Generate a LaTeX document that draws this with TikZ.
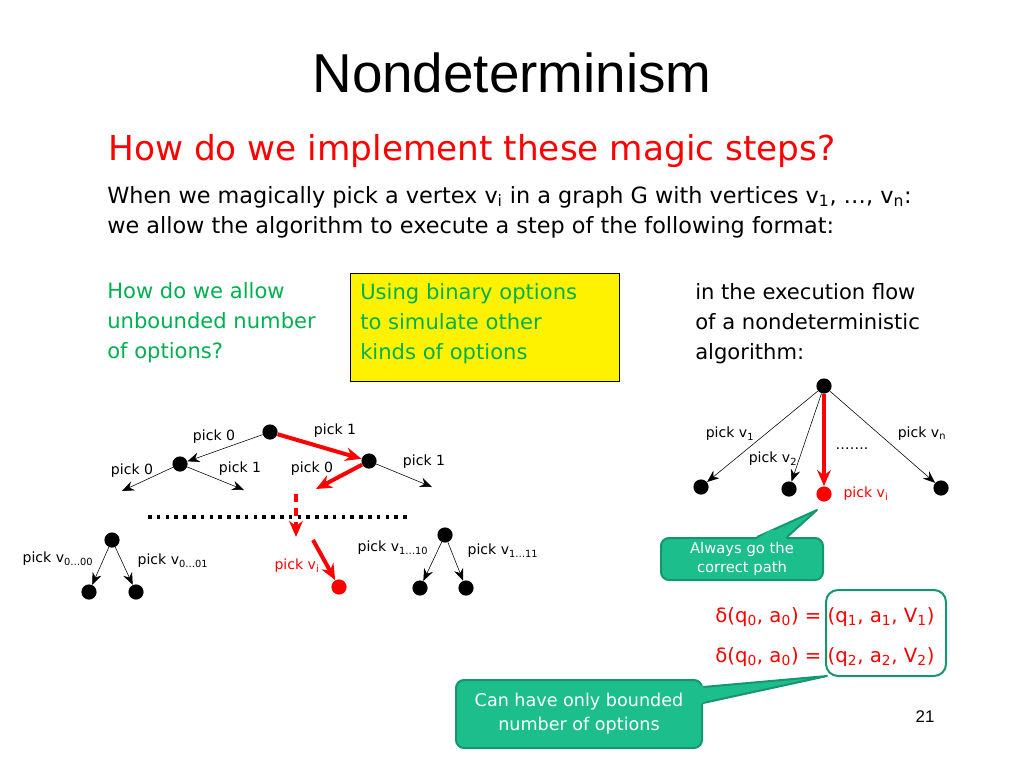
\documentclass[tikz,border=0pt]{standalone}
\usepackage{fontspec}
\setmainfont{DejaVu Sans}
\newfontfamily\titlefont{Liberation Sans}
\usetikzlibrary{arrows.meta}
\definecolor{slidegreen}{RGB}{0,176,80}
\definecolor{calloutfill}{RGB}{28,190,140}
\definecolor{calloutline}{RGB}{22,150,110}
\newcommand{\fsz}[2]{\fontsize{#1}{#2}\selectfont}
\tikzset{
  dot/.style={circle,fill=black,inner sep=0pt,minimum size=3.8mm},
  reddot/.style={dot,fill=red},
  lbl/.style={font=\fsz{10pt}{12pt},inner sep=1pt},
  pick/.style={-{Stealth[length=3mm,width=2.4mm]},thin},
  redpick/.style={-{Stealth[length=4mm,width=3.4mm]},red,line width=1mm},
  txt/.style={anchor=base west,inner sep=0pt,font=\fsz{15pt}{21.3pt}},
  tip/.style={fill=calloutfill,draw=calloutline,line width=0.5mm,rounded corners=2mm,
    text=white,align=center,inner sep=0pt}
}
\begin{document}
\begin{tikzpicture}[x=0.25mm,y=-0.25mm]
  \useasboundingbox (0,0) rectangle (1024,768);
  % title and text
  \node[anchor=base,inner sep=0pt,font=\titlefont\fsz{39pt}{44pt}] (title) at (512,92) {Nondeterminism};
  \node[txt,font=\fsz{24.4pt}{28pt},text=red] (head) at (108,160) {How do we implement these magic steps?};
  \node[txt,font=\fsz{15.9pt}{21.3pt}] (l1) at (107,203) {When we magically pick a vertex v\textsubscript{i} in a graph G with vertices v\textsubscript{1}, …, v\textsubscript{n}:};
  \node[txt,font=\fsz{15.9pt}{21.3pt}] (l2) at (107,233) {we allow the algorithm to execute a step of the following format:};
  \node[txt,text=slidegreen,align=left,anchor=north west] (q) at (107,282)
    {How do we allow\\unbounded number\\of options?};
  \node[draw=black,fill=yellow,minimum width=269*0.25mm,minimum height=108*0.25mm,anchor=north west] (ybox) at (350,273) {};
  \node[txt,text=slidegreen,align=left,anchor=north west] (ytext) at (360,283)
    {Using binary options\\to simulate other\\kinds of options};
  \node[txt,align=left,anchor=north west] (flow) at (695,283)
    {in the execution flow\\of a nondeterministic\\algorithm:};

  % binary tree
  \node[dot] (r) at (270,432) {};
  \node[dot] (a) at (180,464) {};
  \node[dot] (b) at (369,461) {};
  \coordinate (a0) at (122,491);
  \coordinate (a1) at (244,490);
  \coordinate (b0) at (316,489);
  \coordinate (b1) at (432,487);
  \draw[pick] (r) -- (a);
  \draw[redpick] (r) -- (b);
  \draw[pick] (a) -- (a0);
  \draw[pick] (a) -- (a1);
  \draw[redpick] (b) -- (b0);
  \draw[pick] (b) -- (b1);
  \node[lbl] at (214,437) {pick 0};
  \node[lbl] at (335,431) {pick 1};
  \node[lbl] at (132,471) {pick 0};
  \node[lbl] at (240,469) {pick 1};
  \node[lbl] at (312,469) {pick 0};
  \node[lbl] at (424,462) {pick 1};
  \coordinate (ds) at (296,494);
  \coordinate (de) at (296,537);
  \draw[red,line width=1mm,dash pattern=on 2mm off 1.5mm,-{Stealth[length=4mm,width=3.4mm]}] (ds) -- (de);
  \coordinate (dl) at (148,517);
  \coordinate (dr) at (408,517);
  \draw[line width=0.9mm,dash pattern=on 0.9mm off 1.3mm] (dl) -- (dr);
  % bottom left
  \node[dot] (c) at (112,540) {};
  \node[dot] (c0) at (89,592) {};
  \node[dot] (c1) at (136,592) {};
  \draw[pick] (c) -- (c0);
  \draw[pick] (c) -- (c1);
  \node[lbl] at (58,559) {pick v\textsubscript{0…00}};
  \node[lbl] at (173,561) {pick v\textsubscript{0…01}};
  % red path
  \coordinate (vs) at (313,540);
  \node[reddot] (vi) at (339,587) {};
  \draw[redpick] (vs) -- (vi);
  \node[lbl,text=red] at (297,566) {pick v\textsubscript{i}};
  % bottom right
  \node[dot] (d) at (445,535) {};
  \node[dot] (d0) at (420,588) {};
  \node[dot] (d1) at (466,588) {};
  \draw[pick] (d) -- (d0);
  \draw[pick] (d) -- (d1);
  \node[lbl] at (393,548) {pick v\textsubscript{1…10}};
  \node[lbl] at (503,551) {pick v\textsubscript{1…11}};

  % nondeterministic tree
  \node[dot] (s) at (824,386) {};
  \node[dot] (s1) at (701,487) {};
  \node[dot] (s2) at (789,489) {};
  \node[reddot] (si) at (824,494) {};
  \node[dot] (sn) at (941,488) {};
  \draw[pick] (s) -- (s1);
  \draw[pick] (s) -- (s2);
  \draw[pick] (s) -- (sn);
  \draw[redpick] (s) -- (si);
  \node[lbl] at (730,434) {pick v\textsubscript{1}};
  \node[lbl] at (773,459) {pick v\textsubscript{2}};
  \node[lbl] at (922,434) {pick v\textsubscript{n}};
  \node[lbl] at (852,449) {…….};
  \node[lbl,text=red] at (866,494) {pick v\textsubscript{i}};

  % callouts
  \coordinate (t1) at (817,510);
  \node[tip,font=\fsz{10.5pt}{14pt},minimum width=162*0.25mm,minimum height=42*0.25mm] (c1box) at (742,559) {Always go the\\correct path};
  \fill[calloutfill,draw=calloutline,line width=0.5mm,line join=round] ([xshift=15*0.25mm]c1box.north) -- (t1) -- ([xshift=45*0.25mm]c1box.north);
  \fill[calloutfill] ([xshift=13*0.25mm,yshift=-0.8mm]c1box.north) -- ([xshift=47*0.25mm,yshift=-0.8mm]c1box.north) -- ([xshift=30*0.25mm,yshift=2mm]c1box.north) -- cycle;

  \node[draw=calloutline,line width=0.5mm,rounded corners=3mm,minimum width=120*0.25mm,minimum height=86*0.25mm] (tuples) at (886,633) {};
  \node[txt,text=red,font=\fsz{14pt}{16pt}] (e1) at (715,622) {δ(q\textsubscript{0}, a\textsubscript{0}) = (q\textsubscript{1}, a\textsubscript{1}, V\textsubscript{1})};
  \node[txt,text=red,font=\fsz{14pt}{16pt}] (e2) at (715,662) {δ(q\textsubscript{0}, a\textsubscript{0}) = (q\textsubscript{2}, a\textsubscript{2}, V\textsubscript{2})};

  \coordinate (t2) at (827,676);
  \node[tip,font=\fsz{12.5pt}{17pt},minimum width=246*0.25mm,minimum height=68*0.25mm] (c2box) at (579,714) {Can have only bounded\\number of options};
  \fill[calloutfill,draw=calloutline,line width=0.5mm,line join=round] ([yshift=-8*0.25mm]c2box.north east) -- (t2) -- ([yshift=-24*0.25mm]c2box.north east);
  \fill[calloutfill] ([xshift=-0.8mm,yshift=-6*0.25mm]c2box.north east) -- ([xshift=-0.8mm,yshift=-26*0.25mm]c2box.north east) -- ([xshift=3mm,yshift=-16*0.25mm]c2box.north east) -- cycle;

  \node[lbl,font=\titlefont\fsz{12pt}{14pt}] (page) at (925,717) {21};
\end{tikzpicture}
\end{document}
